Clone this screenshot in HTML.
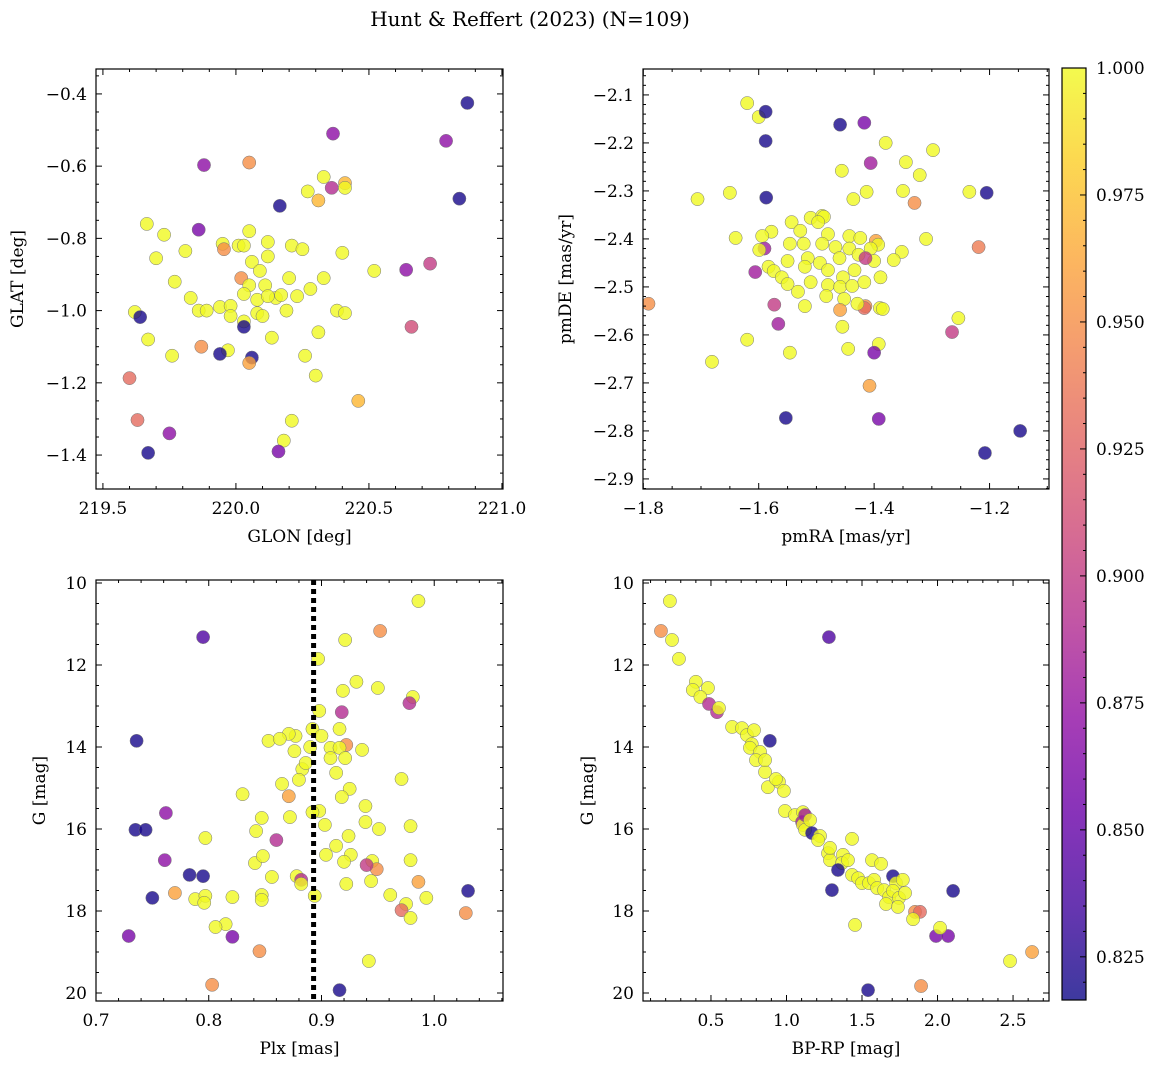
<!DOCTYPE html>
<html><head><meta charset="utf-8">
<style>
html,body{margin:0;padding:0;background:#fff;}
svg{display:block;font-family:"DejaVu Serif","Liberation Serif",serif;}
</style></head>
<body>
<svg id="fig" width="1160" height="1068" viewBox="0 0 1160 1068">
<defs>
<linearGradient id="plasmaGrad" x1="0" y1="1" x2="0" y2="0"></linearGradient>
</defs>
<text x="530" y="26" font-size="20" text-anchor="middle">Hunt &amp; Reffert (2023) (N=109)</text>
</svg>
<script>
// ---- Panel 1 data: GLON / GLAT ----
const glon=[220.87,220.365,220.79,219.88,220.05,220.33,220.41,220.36,220.41,220.27,220.31,220.84,220.165,219.665,219.73,220.05,219.86,219.81,219.95,220.01,220.03,220.12,220.21,220.25,220.40,219.955,219.7,220.12,220.06,220.09,220.52,220.64,220.73,220.02,220.33,219.77,220.2,220.05,220.11,220.28,219.83,220.03,220.08,220.15,220.17,220.23,220.12,219.94,219.98,219.86,219.89,219.62,220.38,220.41,220.08,220.19,220.1,219.64,219.98,220.03,220.03,220.66,220.31,220.135,219.67,219.87,219.97,219.94,220.26,219.76,220.06,220.05,220.3,219.6,220.46,220.21,219.63,219.75,220.18,220.16,219.67];
const glat=[-0.425,-0.51,-0.53,-0.597,-0.59,-0.63,-0.647,-0.66,-0.66,-0.67,-0.695,-0.69,-0.71,-0.76,-0.79,-0.78,-0.776,-0.835,-0.815,-0.82,-0.82,-0.81,-0.82,-0.83,-0.84,-0.83,-0.855,-0.85,-0.865,-0.89,-0.89,-0.887,-0.87,-0.91,-0.91,-0.92,-0.91,-0.93,-0.93,-0.94,-0.965,-0.954,-0.97,-0.965,-0.957,-0.96,-0.96,-0.99,-0.987,-1.0,-1.0,-1.004,-1.0,-1.007,-1.007,-1.0,-1.015,-1.018,-1.015,-1.03,-1.045,-1.045,-1.06,-1.075,-1.08,-1.10,-1.11,-1.12,-1.125,-1.125,-1.13,-1.145,-1.18,-1.187,-1.25,-1.305,-1.303,-1.34,-1.36,-1.39,-1.394];
const prob1=[0.82,0.87,0.87,0.87,0.95,1,0.97,0.89,1,1,0.97,0.82,0.82,1,1,1,0.86,1,1,1,1,1,1,1,1,0.95,1,1,1,1,1,0.87,0.9,0.95,1,1,1,1,1,1,1,1,1,1,1,1,1,1,1,1,1,1,1,1,1,1,1,0.82,1,1,0.82,0.91,1,1,1,0.95,1,0.82,1,1,0.82,0.96,1,0.93,0.97,1,0.93,0.87,1,0.86,0.82];

// ---- Panel 2 data: pmRA / pmDE ----
const pmra=[-1.62,-1.60,-1.588,-1.459,-1.417,-1.588,-1.38,-1.406,-1.298,-1.345,-1.456,-1.321,-1.33,-1.205,-1.235,-1.35,-1.413,-1.65,-1.706,-1.587,-1.436,-1.51,-1.49,-1.487,-1.497,-1.543,-1.528,-1.578,-1.594,-1.64,-1.443,-1.424,-1.48,-1.397,-1.393,-1.31,-1.59,-1.599,-1.546,-1.522,-1.49,-1.467,-1.443,-1.406,-1.219,-1.352,-1.55,-1.515,-1.494,-1.46,-1.427,-1.4,-1.366,-1.415,-1.606,-1.583,-1.574,-1.52,-1.48,-1.434,-1.56,-1.51,-1.454,-1.389,-1.55,-1.48,-1.459,-1.438,-1.417,-1.532,-1.483,-1.452,-1.573,-1.791,-1.52,-1.459,-1.415,-1.417,-1.39,-1.429,-1.385,-1.254,-1.566,-1.455,-1.265,-1.62,-1.392,-1.4,-1.546,-1.445,-1.681,-1.408,-1.553,-1.392,-1.147,-1.208];
const pmde=[-2.117,-2.146,-2.135,-2.162,-2.158,-2.196,-2.2,-2.242,-2.215,-2.24,-2.258,-2.267,-2.325,-2.304,-2.302,-2.3,-2.302,-2.304,-2.317,-2.314,-2.317,-2.356,-2.352,-2.354,-2.365,-2.365,-2.383,-2.385,-2.394,-2.398,-2.394,-2.398,-2.39,-2.404,-2.412,-2.4,-2.42,-2.423,-2.41,-2.41,-2.41,-2.417,-2.42,-2.42,-2.417,-2.427,-2.446,-2.44,-2.45,-2.44,-2.433,-2.446,-2.444,-2.44,-2.469,-2.458,-2.467,-2.458,-2.465,-2.465,-2.48,-2.49,-2.48,-2.48,-2.494,-2.496,-2.5,-2.498,-2.49,-2.51,-2.519,-2.525,-2.537,-2.535,-2.54,-2.548,-2.54,-2.544,-2.544,-2.535,-2.546,-2.565,-2.577,-2.583,-2.594,-2.61,-2.619,-2.637,-2.637,-2.629,-2.656,-2.706,-2.773,-2.775,-2.8,-2.846];
const prob2=[1,1,0.82,0.82,0.86,0.82,1,0.88,1,1,1,1,0.95,0.82,1,1,1,1,1,0.82,1,1,1,1,1,1,1,1,1,1,1,1,1,0.96,1,1,0.88,1,1,1,1,1,1,1,0.94,1,1,1,1,1,1,1,1,0.9,0.88,1,1,1,1,1,1,1,1,1,1,1,1,1,1,1,1,1,0.9,0.95,1,0.96,0.95,0.93,1,1,1,1,0.88,1,0.9,1,1,0.86,1,1,1,0.96,0.82,0.86,0.82,0.82];

// ---- Panel 3 data: Plx / G ----
const plx=[0.986,0.952,0.921,0.795,0.897,0.931,0.950,0.919,0.981,0.978,0.918,0.898,0.892,0.877,0.900,0.916,0.736,0.871,0.922,0.853,0.863,0.876,0.890,0.908,0.916,0.936,0.883,0.886,0.921,0.880,0.908,0.971,0.913,0.925,0.865,0.918,0.939,0.871,0.830,0.898,0.847,0.872,0.892,0.762,0.903,0.939,0.979,0.951,0.797,0.860,0.924,0.842,0.735,0.744,0.904,0.926,0.913,0.841,0.848,0.920,0.945,0.949,0.940,0.979,0.761,0.783,0.795,0.856,0.878,0.882,0.882,0.922,0.944,0.986,0.961,0.750,0.770,0.788,0.797,0.796,0.821,0.847,0.847,0.894,0.975,0.993,1.030,0.971,0.979,1.028,0.815,0.806,0.729,0.821,0.845,0.942,0.803,0.916];
const gmag3=[10.44,11.17,11.39,11.32,11.85,12.41,12.56,12.63,12.78,12.93,13.15,13.12,13.56,13.73,13.73,13.56,13.85,13.68,13.95,13.85,13.80,14.10,14.0,14.02,14.02,14.07,14.54,14.39,14.27,14.80,14.27,14.78,14.63,15.02,14.90,15.22,15.44,15.2,15.15,15.56,15.73,15.71,15.59,15.61,15.9,15.83,15.93,16.0,16.22,16.27,16.17,16.05,16.02,16.02,16.63,16.63,16.41,16.83,16.66,16.80,16.78,16.98,16.88,16.76,16.76,17.12,17.15,17.17,17.15,17.24,17.34,17.34,17.27,17.29,17.61,17.68,17.56,17.71,17.63,17.80,17.66,17.61,17.73,17.63,17.83,17.68,17.51,17.98,18.17,18.05,18.32,18.39,18.61,18.63,18.98,19.22,19.80,19.93];
const prob3=[1,0.95,1,0.84,1,1,1,1,1,0.89,0.89,1,1,1,1,1,0.82,1,0.95,1,1,1,1,1,1,1,1,1,1,1,1,1,1,1,1,1,1,0.96,1,1,1,1,1,0.87,1,1,1,1,1,0.89,1,1,0.82,0.82,1,1,1,1,1,1,1,0.95,0.9,1,0.87,0.82,0.82,1,1,0.89,1,1,1,0.96,1,0.82,0.96,1,1,1,1,1,1,1,1,1,0.82,0.93,1,0.95,1,1,0.86,0.86,0.95,1,0.95,0.82];
const plxLine=0.893;

// ---- Panel 4 data: BP-RP / G ----
const bprp=[0.169,0.228,0.242,0.288,2.626,2.48,1.281,0.40,0.38,0.48,0.43,0.487,0.54,0.553,0.64,0.705,0.738,0.785,0.77,0.89,0.758,0.825,0.798,0.858,0.858,0.877,0.95,0.983,0.93,0.99,1.056,1.109,1.103,1.109,1.123,1.123,1.156,1.169,1.222,1.209,1.434,1.275,1.288,1.374,1.368,1.288,1.341,1.407,1.566,1.626,1.434,1.474,1.5,1.546,1.58,1.6,1.646,1.705,1.725,1.77,1.679,1.705,1.745,1.785,1.301,1.659,1.738,1.851,1.884,1.838,1.454,1.99,2.07,2.017,2.103,1.54,1.891];
const gmag4=[11.17,10.44,11.39,11.85,19.0,19.22,11.32,12.41,12.61,12.56,12.78,12.95,13.15,13.05,13.51,13.54,13.71,13.59,13.93,13.85,14.02,14.12,14.32,14.61,14.32,14.98,14.85,15.07,14.78,15.56,15.66,15.59,15.83,15.9,15.66,16.02,15.78,16.1,16.17,16.27,16.24,16.59,16.76,16.63,16.83,16.46,17.0,16.76,16.76,16.85,17.12,17.2,17.32,17.32,17.24,17.44,17.49,17.15,17.32,17.24,17.66,17.51,17.68,17.56,17.49,17.83,17.9,18.02,18.02,18.2,18.34,18.61,18.61,18.41,17.51,19.93,19.83];
const prob4=[0.95,1,1,1,0.96,1,0.84,1,1,1,1,0.89,0.89,1,1,1,1,1,1,0.82,1,1,1,1,1,1,1,1,1,1,1,1,0.88,1,0.88,1,1,0.82,1,1,1,1,1,1,1,1,0.82,1,1,1,1,1,1,1,1,1,1,0.82,1,1,1,1,1,1,0.82,1,1,0.95,0.93,1,1,0.86,0.86,1,0.82,0.82,0.95];

// ---- Colorbar ticks ----
const cbTicks=[1.000,0.975,0.950,0.925,0.900,0.875,0.850,0.825];
const cbMin=0.8165, cbMax=1.0;

const NS="http://www.w3.org/2000/svg";
const svg=document.getElementById('fig');
const plasma=[[13,8,135],[65,4,157],[106,0,168],[143,13,164],[177,42,144],[204,71,120],[225,100,98],[242,132,75],[252,166,54],[252,206,37],[240,249,33]];
function cmap(t){t=Math.max(0,Math.min(1,t));const f=t*10,i=Math.min(9,Math.floor(f)),r=f-i;const a=plasma[i],b=plasma[i+1];
 return 'rgb('+[0,1,2].map(k=>Math.round(a[k]+(b[k]-a[k])*r)).join(',')+')';}
function pcol(p){return cmap((p-cbMin)/(cbMax-cbMin));}
function el(tag,attrs,parent){const e=document.createElementNS(NS,tag);for(const k in attrs)e.setAttribute(k,attrs[k]);(parent||svg).appendChild(e);return e;}
function fmt(v,d){const s=Math.abs(v).toFixed(d);return (v<-1e-9?'\u2212':'')+s;}

// gradient
const grad=document.getElementById('plasmaGrad');
for(let i=0;i<=10;i++){const st=document.createElementNS(NS,'stop');st.setAttribute('offset',(i*10)+'%');st.setAttribute('stop-color',cmap(i/10));st.setAttribute('stop-opacity','0.8');grad.appendChild(st);}

function panel(c){
 const g=el('g',{});
 
 
 const X=v=>c.l+(v-c.x0)/(c.x1-c.x0)*c.w;
 const Y=v=>c.t+(v-c.y0)/(c.y1-c.y0)*c.h;
 const clip='clip-'+c.name;
 const cp=el('clipPath',{id:clip},g);el('rect',{x:c.l,y:c.t,width:c.w,height:c.h},cp);
 const pts=el('g',{'clip-path':'url(#'+clip+')'},g);
 
 
 for(let i=0;i<c.xs.length;i++){
  const d=el('circle',{cx:X(c.xs[i]),cy:Y(c.ys[i]),r:6.6,fill:pcol(c.ps[i]),'fill-opacity':0.8,stroke:'#777','stroke-width':0.5},pts);
  
  
 }
 if(c.vline!==undefined){
  const ln=el('line',{x1:X(c.vline),x2:X(c.vline),y1:c.t,y2:c.t+c.h,stroke:'#000','stroke-width':5,'stroke-dasharray':'5,4'},g);
  
  
 }
 const fr=el('rect',{x:c.l,y:c.t,width:c.w,height:c.h,fill:'none',stroke:'#000','stroke-width':1.2},g);
 
 
 const eps=1e-9;
 // x ticks
 const xs0=Math.ceil(Math.min(c.x0,c.x1)/c.xmn-eps)*c.xmn;
 for(let v=xs0;v<=Math.max(c.x0,c.x1)+eps;v+=c.xmn){
  const major=Math.abs(v/c.xmj-Math.round(v/c.xmj))<1e-6;const L=major?6:3;const x=X(v);
  el('line',{x1:x,x2:x,y1:c.t+c.h,y2:c.t+c.h-L,stroke:'#000','stroke-width':1},g);
  el('line',{x1:x,x2:x,y1:c.t,y2:c.t+L,stroke:'#000','stroke-width':1},g);
  if(major){const t=el('text',{x:x,y:c.t+c.h+25,'font-size':17,'text-anchor':'middle'},g);t.textContent=fmt(v,c.xd);
   
   }
 }
 const lo=Math.min(c.y0,c.y1),hi=Math.max(c.y0,c.y1);
 const ys0=Math.ceil(lo/c.ymn-eps)*c.ymn;
 for(let v=ys0;v<=hi+eps;v+=c.ymn){
  const major=Math.abs(v/c.ymj-Math.round(v/c.ymj))<1e-6;const L=major?6:3;const y=Y(v);
  el('line',{x1:c.l,x2:c.l+L,y1:y,y2:y,stroke:'#000','stroke-width':1},g);
  el('line',{x1:c.l+c.w,x2:c.l+c.w-L,y1:y,y2:y,stroke:'#000','stroke-width':1},g);
  if(major){const t=el('text',{x:c.l-9,y:y+6,'font-size':17,'text-anchor':'end'},g);t.textContent=fmt(v,c.yd);
   
   }
 }
 const xl=el('text',{x:c.l+c.w/2,y:c.t+c.h+53,'font-size':17,'text-anchor':'middle'},g);xl.textContent=c.xlab;
 
 
 const yx=c.ylx, yy=c.t+c.h/2;
 const yl=el('text',{x:yx,y:yy,'font-size':17,'text-anchor':'middle',transform:'rotate(-90 '+yx+' '+yy+')'},g);yl.textContent=c.ylab;
 
 
}

panel({name:'glon-glat-panel',l:96,t:69,w:407,h:420,x0:219.474,x1:221.004,y0:-0.331,y1:-1.494,xmj:0.5,xmn:0.1,ymj:0.2,ymn:0.05,xd:1,yd:1,xs:glon,ys:glat,ps:prob1,xlab:'GLON [deg]',ylab:'GLAT [deg]',ylx:23});
panel({name:'pm-panel',l:643,t:69,w:406,h:420,x0:-1.8005,x1:-1.097,y0:-2.046,y1:-2.921,xmj:0.2,xmn:0.05,ymj:0.1,ymn:0.02,xd:1,yd:1,xs:pmra,ys:pmde,ps:prob2,xlab:'pmRA [mas/yr]',ylab:'pmDE [mas/yr]',ylx:571});
panel({name:'plx-g-panel',l:96,t:580,w:407,h:421,x0:0.7,x1:1.061,y0:9.927,y1:20.195,xmj:0.1,xmn:0.02,ymj:2,ymn:0.5,xd:1,yd:0,xs:plx,ys:gmag3,ps:prob3,vline:plxLine,xlab:'Plx [mas]',ylab:'G [mag]',ylx:45});
panel({name:'cmd-panel',l:643,t:580,w:406,h:421,x0:0.05,x1:2.738,y0:9.927,y1:20.195,xmj:0.5,xmn:0.1,ymj:2,ymn:0.5,xd:1,yd:0,xs:bprp,ys:gmag4,ps:prob4,xlab:'BP-RP [mag]',ylab:'G [mag]',ylx:593});

// colorbar
const cb=el('g',{});


const cbT=68,cbB=1000,cbL=1062,cbW=24;
const CY=v=>cbB-(v-cbMin)/(cbMax-cbMin)*(cbB-cbT);
el('rect',{x:cbL,y:cbT,width:cbW,height:cbB-cbT,fill:'url(#plasmaGrad)',stroke:'#000','stroke-width':1.2},cb);
for(let v=Math.ceil(cbMin/0.005)*0.005;v<=cbMax+1e-9;v+=0.005){
 const major=Math.abs(v/0.025-Math.round(v/0.025))<1e-6;const y=CY(v);
 el('line',{x1:cbL+cbW,x2:cbL+cbW-(major?6:3),y1:y,y2:y,stroke:'#000','stroke-width':1},cb);
}
cbTicks.forEach(v=>{
 const t=el('text',{x:cbL+cbW+10,y:CY(v)+6,'font-size':17},cb);t.textContent=v.toFixed(3);
 
 
});
</script>
</body></html>
